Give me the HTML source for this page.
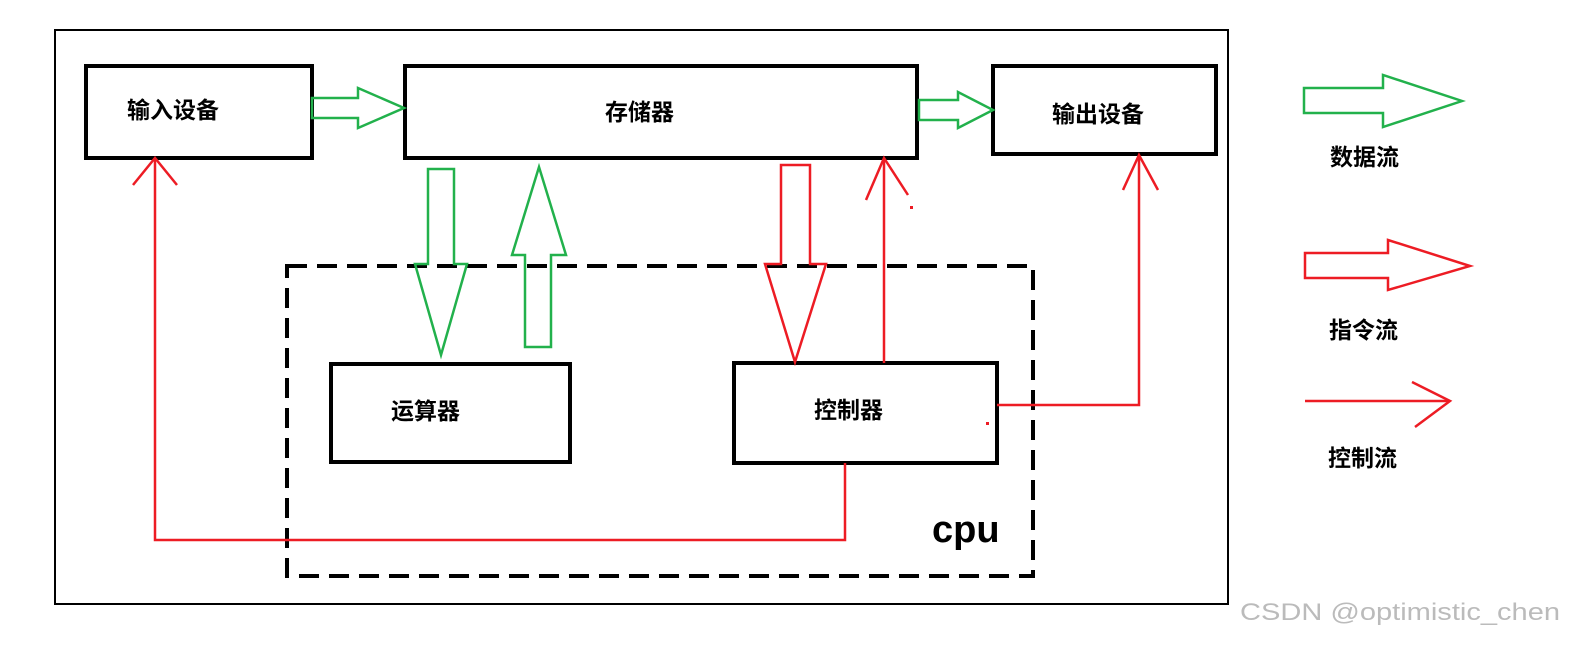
<!DOCTYPE html>
<html><head><meta charset="utf-8"><style>
body{margin:0;background:#fff;}
svg text{font-family:"Liberation Sans","Noto Sans CJK SC",sans-serif;font-weight:bold;}
</style></head><body>
<svg width="1570" height="641" viewBox="0 0 1570 641" xmlns="http://www.w3.org/2000/svg">
<rect x="55" y="30" width="1173" height="574" fill="none" stroke="#000" stroke-width="2"/>
<rect x="86" y="66" width="226" height="92" fill="none" stroke="#000" stroke-width="4"/>
<rect x="405" y="66" width="512" height="92" fill="none" stroke="#000" stroke-width="4"/>
<rect x="993" y="66" width="223" height="88" fill="none" stroke="#000" stroke-width="4"/>
<rect x="287" y="266" width="746" height="310" fill="none" stroke="#000" stroke-width="4" stroke-dasharray="20,10"/>
<rect x="331" y="364" width="239" height="98" fill="none" stroke="#000" stroke-width="4"/>
<rect x="734" y="363" width="263" height="100" fill="none" stroke="#000" stroke-width="4"/>
<g font-size="23" fill="#000">
<text x="127" y="118">输入设备</text>
<text x="605" y="120">存储器</text>
<text x="1052" y="122">输出设备</text>
<text x="391" y="419">运算器</text>
<text x="814" y="418">控制器</text>
<text x="1330" y="165">数据流</text>
<text x="1329" y="338">指令流</text>
<text x="1328" y="466">控制流</text>
</g>
<text x="932" y="542" font-size="38" fill="#000">cpu</text>
<g fill="none" stroke="#22b14c" stroke-width="2.5">
<polygon points="312,98 358,98 358,88 404,108 358,128 358,118 312,118"/>
<polygon points="919,100 958,100 958,92 993,110 958,128 958,120 919,120"/>
<polygon points="428,169 454,169 454,264 467,264 441,355 415,264 428,264"/>
<polygon points="539,167 566,255 551,255 551,347 525,347 525,255 512,255"/>
<polygon points="1304,88 1383,88 1383,75 1462,101 1383,127 1383,113 1304,113"/>
</g>
<g fill="none" stroke="#ed1c24" stroke-width="2.5">
<polygon points="781,165 810,165 810,264 826,264 795,362 765,264 781,264"/>
<polygon points="1305,253 1388,253 1388,240 1470,266 1388,290 1388,278 1305,278"/>
<polyline points="884,363 884,158"/>
<polyline points="866,200 884,158 908,195"/>
<polyline points="997,405 1139,405 1139,155"/>
<polyline points="1123,190 1139,155 1158,190"/>
<polyline points="845,463 845,540 155,540 155,158"/>
<polyline points="133,185 155,158 177,185"/>
<polyline points="1305,401 1450,401"/>
<polyline points="1412,382 1450,401 1415,427"/>
</g>
<rect x="910" y="206" width="3" height="3" fill="#ed1c24"/>
<rect x="986" y="422" width="3" height="3" fill="#ed1c24"/>
<text x="1240" y="620" font-size="24" fill="#bbb" textLength="320" lengthAdjust="spacingAndGlyphs" style="font-weight:normal">CSDN @optimistic_chen</text>
</svg>
</body></html>
